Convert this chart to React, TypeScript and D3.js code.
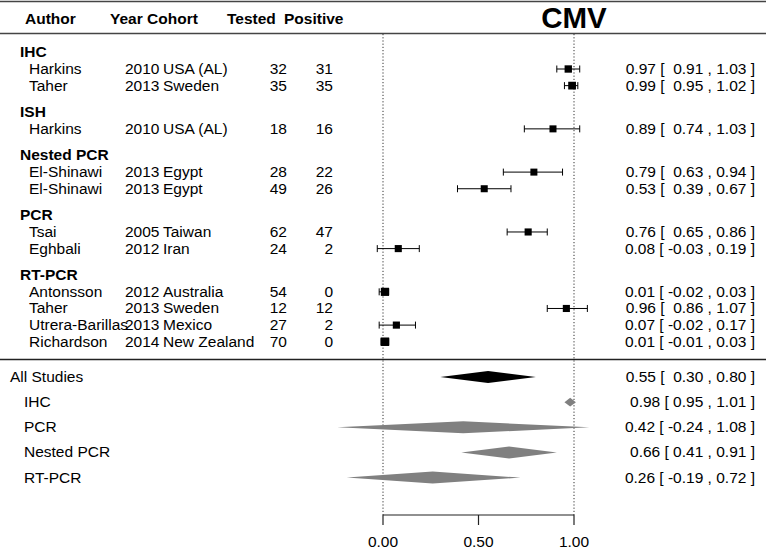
import React from "react";
import * as d3 from "d3";

// ---- Data ----
const groups = ["IHC", "ISH", "Nested PCR", "PCR", "RT-PCR"];
const studyGroup = [0, 0, 1, 2, 2, 3, 3, 4, 4, 4, 4];
const authors = ["Harkins", "Taher", "Harkins", "El-Shinawi", "El-Shinawi", "Tsai", "Eghbali", "Antonsson", "Taher", "Utrera-Barillas", "Richardson"];
const years = ["2010", "2013", "2010", "2013", "2013", "2005", "2012", "2012", "2013", "2013", "2014"];
const cohorts = ["USA (AL)", "Sweden", "USA (AL)", "Egypt", "Egypt", "Taiwan", "Iran", "Australia", "Sweden", "Mexico", "New Zealand"];
const tested = [32, 35, 18, 28, 49, 62, 24, 54, 12, 27, 70];
const positive = [31, 35, 16, 22, 26, 47, 2, 0, 12, 2, 0];
const estimates = [0.97, 0.99, 0.89, 0.79, 0.53, 0.76, 0.08, 0.01, 0.96, 0.07, 0.01];
const lower = [0.91, 0.95, 0.74, 0.63, 0.39, 0.65, -0.03, -0.02, 0.86, -0.02, -0.01];
const upper = [1.03, 1.02, 1.03, 0.94, 0.67, 0.86, 0.19, 0.03, 1.07, 0.17, 0.03];

const summaryLabels = ["All Studies", "IHC", "PCR", "Nested PCR", "RT-PCR"];
const summaryEst = [0.55, 0.98, 0.42, 0.66, 0.26];
const summaryLower = [0.30, 0.95, -0.24, 0.41, -0.19];
const summaryUpper = [0.80, 1.01, 1.08, 0.91, 0.72];
const summaryOverall = [true, false, false, false, false];

const headers = ["Author", "Year Cohort", "Tested", "Positive"];
const title = "CMV";
const tickValues = [0, 0.5, 1];

// ---- Layout ----
const W = 766;
const H = 551;
const FONT = "'Liberation Sans', Arial, Helvetica, sans-serif";
const FS = 15.5;

const f2 = (v: number) => v.toFixed(2);
const padNum = (v: number) => (v < 0 ? " " : "  ") + f2(v);
const studyText = (i: number) => `${f2(estimates[i])} [${padNum(lower[i])} , ${f2(upper[i])} ]`;
const summaryText = (i: number) =>
  summaryOverall[i]
    ? `${f2(summaryEst[i])} [${padNum(summaryLower[i])} , ${f2(summaryUpper[i])} ]`
    : `${f2(summaryEst[i])} [ ${f2(summaryLower[i])} , ${f2(summaryUpper[i])} ]`;

// compute row positions (in row units)
type Row = { kind: "header" | "study"; pos: number; idx: number };
const rows: Row[] = [];
{
  let pos = -1;
  groups.forEach((g, gi) => {
    rows.push({ kind: "header", pos, idx: gi });
    pos += 1;
    studyGroup.forEach((sg, si) => {
      if (sg === gi) {
        rows.push({ kind: "study", pos, idx: si });
        pos += 1;
      }
    });
    pos += 0.6;
  });
}

export default function App() {
  const x = d3.scaleLinear().domain([0, 1]).range([383, 574]);
  const yRow = d3.scaleLinear().domain([0, 16.4]).range([69, 69 + 16.4 * 16.63]);
  const ySum = d3.scaleLinear().domain([0, 4]).range([377, 377 + 4 * 25.15]);

  const se = estimates.map((_, i) => (upper[i] - lower[i]) / 3.92);
  const w = se.map((s) => 1 / s);
  const wScale = d3.scaleLinear().domain(d3.extent(w) as [number, number]).range([7, 8.5]);

  const textBase = { fontFamily: FONT, fontSize: FS, fill: "#000" } as const;

  return (
    <svg width={W} height={H} style={{ position: "absolute", left: 0, top: 0, background: "#fff" }}>
      <rect x={0} y={0} width={W} height={H} fill="#fff" />
      {/* top & header lines */}
      <line x1={0} x2={W} y1={1.5} y2={1.5} stroke="#444" strokeWidth={1.6} />
      <line x1={0} x2={W} y1={33.5} y2={33.5} stroke="#444" strokeWidth={1.6} />
      <line x1={0} x2={W} y1={359.5} y2={359.5} stroke="#222" strokeWidth={1.3} />

      {/* headers */}
      <g style={{ ...textBase, fontWeight: "bold" }}>
        <text x={25} y={23.5}>{headers[0]}</text>
        <text x={110} y={23.5}>{headers[1]}</text>
        <text x={227} y={23.5}>{headers[2]}</text>
        <text x={284} y={23.5}>{headers[3]}</text>
      </g>
      <text x={x(1)} y={28} textAnchor="middle" style={{ fontFamily: FONT, fontSize: 29.5, fontWeight: "bold" }}>
        {title}
      </text>

      {/* reference dotted lines */}
      {[0, 1].map((v) => (
        <line key={v} x1={x(v)} x2={x(v)} y1={34} y2={515} stroke="#333" strokeWidth={1} strokeDasharray="1.2,2" />
      ))}

      {/* study rows */}
      {rows.map((r, k) => {
        const cy = yRow(r.pos);
        const base = cy + 5;
        if (r.kind === "header") {
          return (
            <text key={k} x={20} y={base} style={{ ...textBase, fontWeight: "bold" }}>
              {groups[r.idx]}
            </text>
          );
        }
        const i = r.idx;
        const s = wScale(w[i]);
        return (
          <g key={k}>
            <text x={29} y={base} style={textBase}>{authors[i]}</text>
            <text x={125} y={base} style={textBase}>{years[i]}</text>
            <text x={163} y={base} style={textBase}>{cohorts[i]}</text>
            <text x={287} y={base} textAnchor="end" style={textBase}>{tested[i]}</text>
            <text x={333} y={base} textAnchor="end" style={textBase}>{positive[i]}</text>
            <line x1={x(lower[i])} x2={x(upper[i])} y1={cy} y2={cy} stroke="#000" strokeWidth={1} />
            <line x1={x(lower[i])} x2={x(lower[i])} y1={cy - 3.5} y2={cy + 3.5} stroke="#000" strokeWidth={1} />
            <line x1={x(upper[i])} x2={x(upper[i])} y1={cy - 3.5} y2={cy + 3.5} stroke="#000" strokeWidth={1} />
            <rect x={x(estimates[i]) - s / 2} y={cy - s / 2} width={s} height={s} fill="#000" />
            <text x={755} y={base} textAnchor="end" style={{ ...textBase, whiteSpace: "pre" }} xmlSpace="preserve">
              {studyText(i)}
            </text>
          </g>
        );
      })}

      {/* summary rows */}
      {summaryLabels.map((lab, i) => {
        const cy = ySum(i);
        const base = cy + 5;
        const x0 = x(summaryLower[i]);
        const x1 = x(summaryUpper[i]);
        const xm = x(summaryEst[i]);
        const h = Math.min(12, (x1 - x0) * 0.75);
        const col = summaryOverall[i] ? "#000" : "#808080";
        const path = d3.path();
        path.moveTo(x0, cy);
        path.lineTo(xm, cy - h / 2);
        path.lineTo(x1, cy);
        path.lineTo(xm, cy + h / 2);
        path.closePath();
        return (
          <g key={lab}>
            <text x={summaryOverall[i] ? 10 : 24} y={base} style={textBase}>{lab}</text>
            <path d={path.toString()} fill={col} />
            <text x={755} y={base} textAnchor="end" style={{ ...textBase, whiteSpace: "pre" }} xmlSpace="preserve">
              {summaryText(i)}
            </text>
          </g>
        );
      })}

      {/* axis */}
      <g stroke="#222" strokeWidth={1.2}>
        <line x1={x(0)} x2={x(1)} y1={515} y2={515} />
        {tickValues.map((t) => (
          <line key={t} x1={x(t)} x2={x(t)} y1={515} y2={525} />
        ))}
      </g>
      {tickValues.map((t) => (
        <text key={t} x={x(t)} y={547} textAnchor="middle" style={textBase}>
          {f2(t)}
        </text>
      ))}
    </svg>
  );
}
